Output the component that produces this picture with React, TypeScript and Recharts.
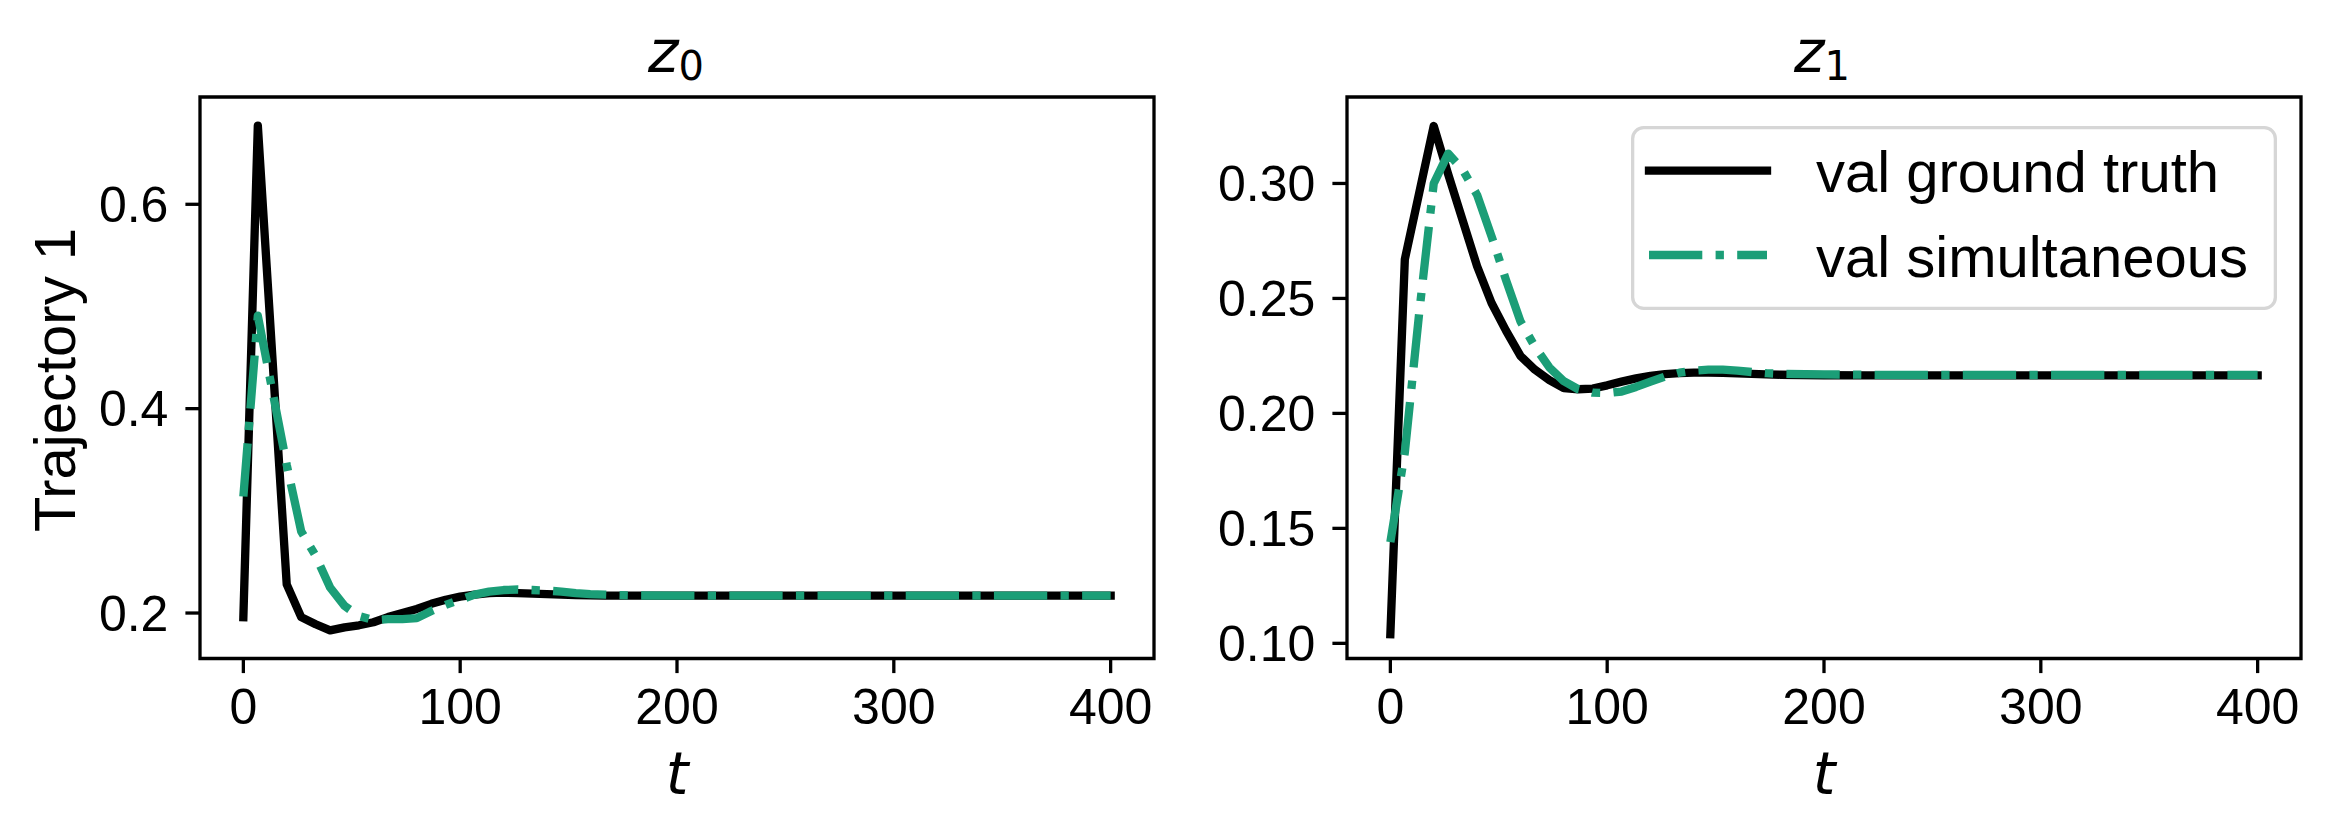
import React from 'react';
import { LineChart, Line, XAxis, YAxis, ReferenceArea, Legend } from 'recharts';

// sample times (t) shared by every series
const tValues = [
  0, 6.67, 13.33, 20, 26.67, 33.33, 40, 46.67, 53.33, 60, 66.67, 73.33, 80, 86.67, 93.33, 100,
  106.67, 113.33, 120, 126.67, 133.33, 140, 146.67, 153.33, 160, 166.67, 173.33, 180,
  200, 220, 240, 260, 280, 300, 320, 340, 360, 380, 400,
];

// z0, trajectory 1
const z0Truth = [
  0.196, 0.677, 0.452, 0.228, 0.196, 0.189, 0.183, 0.186, 0.188, 0.191, 0.196, 0.2, 0.204, 0.209, 0.213, 0.216,
  0.218, 0.2195, 0.22, 0.2195, 0.219, 0.2185, 0.218, 0.2175, 0.2172, 0.217, 0.217, 0.217,
  0.217, 0.217, 0.217, 0.217, 0.217, 0.217, 0.217, 0.217, 0.217, 0.217, 0.217,
];
const z0Sim = [
  0.314, 0.491, 0.418, 0.345, 0.28, 0.256, 0.225, 0.207, 0.197, 0.193, 0.194, 0.194, 0.195, 0.202, 0.208, 0.213,
  0.218, 0.221, 0.2225, 0.223, 0.2225, 0.222, 0.221, 0.2195, 0.2185, 0.218, 0.2175, 0.2172,
  0.2171, 0.217, 0.217, 0.217, 0.217, 0.217, 0.217, 0.217, 0.217, 0.217, 0.217,
];

// z1, trajectory 1
const z1Truth = [
  0.104, 0.267, 0.296, 0.325, 0.304, 0.284, 0.264, 0.248, 0.236, 0.225, 0.219, 0.2145, 0.211, 0.2105, 0.2108, 0.2122,
  0.2138, 0.2152, 0.2163, 0.2171, 0.2175, 0.2177, 0.2177, 0.2176, 0.2174, 0.2172, 0.217, 0.2168,
  0.2166, 0.2165, 0.2165, 0.2165, 0.2165, 0.2165, 0.2165, 0.2165, 0.2165, 0.2165, 0.2165,
];
const z1Sim = [
  0.144, 0.183, 0.244, 0.3, 0.313, 0.306, 0.295, 0.277, 0.258, 0.24, 0.229, 0.22, 0.214, 0.2105, 0.209, 0.2088,
  0.2095, 0.2115, 0.2138, 0.216, 0.2177, 0.2186, 0.219, 0.219, 0.2186, 0.218, 0.2175, 0.2172,
  0.217, 0.2168, 0.2167, 0.2167, 0.2167, 0.2167, 0.2167, 0.2167, 0.2167, 0.2167, 0.2167,
];

const xTicks = [0, 100, 200, 300, 400];
const z0Ticks = [0.2, 0.4, 0.6];
const z1Ticks = [0.1, 0.15, 0.2, 0.25, 0.3];

const xDomain = [-20, 420];
const z0Domain = [0.1555, 0.705];
const z1Domain = [0.0934, 0.3376];

const toRows = (truth: number[], sim: number[]) =>
  tValues.map((t, i) => ({ t, truth: truth[i], sim: sim[i] }));

const z0Data = toRows(z0Truth, z0Sim);
const z1Data = toRows(z1Truth, z1Sim);

const FONT = '"Liberation Sans", Arial, sans-serif';
const MATH = '"DejaVu Sans", sans-serif';
const LW = 8.33;
const SPINE = 3.3;
const GREEN = '#1b9e77';
const DASHDOT = '53.3 13.3 8.3 13.3';

const seriesStyle: Record<string, { color: string; dash?: string; cap: 'butt' | 'square' }> = {
  truth: { color: '#000000', cap: 'square' },
  sim: { color: GREEN, dash: DASHDOT, cap: 'butt' },
};

function LegendBox({ payload }: any) {
  const rows = [44.7, 129];
  return (
    <svg width={646} height={184}>
      <rect x={1.65} y={1.65} width={642.7} height={180.7} rx={11} fill="#fff" fillOpacity={0.8} stroke="#d6d6d6" strokeWidth={SPINE} />
      {(payload || []).map((item: any, i: number) => {
        const s = seriesStyle[item.dataKey];
        return (
          <g key={item.dataKey}>
            <line x1={18} x2={136} y1={rows[i]} y2={rows[i]} stroke={s.color} strokeWidth={LW} strokeDasharray={s.dash} strokeLinecap={s.cap} />
            <text x={185} y={rows[i] + 21.5} fontSize={58} fontFamily={FONT} fill="#000">{item.value}</text>
          </g>
        );
      })}
    </svg>
  );
}

function Panel({ data, yDomain, yTicks, digits, yAxisWidth, rightMargin, showLegend }: any) {
  return (
    <LineChart width={1165} height={834} data={data} margin={{ top: 97, right: rightMargin, bottom: 0, left: 0 }}>
      <XAxis
        dataKey="t"
        type="number"
        domain={xDomain}
        ticks={xTicks}
        allowDataOverflow
        interval={0}
        height={175.5}
        axisLine={false}
        tickSize={14.6}
        tickMargin={15}
        tickLine={{ stroke: '#000', strokeWidth: SPINE }}
        tick={{ fill: '#000', fontSize: 50, fontFamily: FONT }}
      />
      <YAxis
        type="number"
        domain={yDomain}
        ticks={yTicks}
        allowDataOverflow
        interval={0}
        width={yAxisWidth}
        axisLine={false}
        tickSize={14.6}
        tickMargin={17}
        tickFormatter={(v: number) => v.toFixed(digits)}
        tickLine={{ stroke: '#000', strokeWidth: SPINE }}
        tick={{ fill: '#000', fontSize: 50, fontFamily: FONT }}
      />
      <ReferenceArea
        x1={xDomain[0]}
        x2={xDomain[1]}
        y1={yDomain[0]}
        y2={yDomain[1]}
        fill="none"
        stroke="#000"
        strokeWidth={SPINE}
        ifOverflow="visible"
      />
      <Line
        type="linear"
        dataKey="truth"
        name="val ground truth"
        stroke="#000"
        strokeWidth={LW}
        strokeLinecap="square"
        strokeLinejoin="round"
        dot={false}
        activeDot={false}
        isAnimationActive={false}
      />
      <Line
        type="linear"
        dataKey="sim"
        name="val simultaneous"
        stroke={GREEN}
        strokeWidth={LW}
        strokeDasharray={DASHDOT}
        strokeLinecap="butt"
        strokeLinejoin="round"
        dot={false}
        activeDot={false}
        isAnimationActive={false}
      />
      {showLegend && (
        <Legend
          layout="vertical"
          align="center"
          verticalAlign="middle"
          wrapperStyle={{ left: 466, top: 126, width: 646, height: 184 }}
          content={(props: any) => <LegendBox payload={props.payload} />}
        />
      )}
    </LineChart>
  );
}

export default function App() {
  return (
    <div style={{ position: 'absolute', left: 0, top: 0, width: 2330, height: 834, background: '#fff' }}>
      <div style={{ position: 'absolute', left: 0, top: 0 }}>
        <Panel data={z0Data} yDomain={z0Domain} yTicks={z0Ticks} digits={1} yAxisWidth={200} rightMargin={11} />
      </div>
      <div style={{ position: 'absolute', left: 1165, top: 0 }}>
        <Panel data={z1Data} yDomain={z1Domain} yTicks={z1Ticks} digits={2} yAxisWidth={182} rightMargin={29} showLegend />
      </div>

      {/* titles and axis labels */}
      <svg width={2330} height={834} style={{ position: 'absolute', left: 0, top: 0, pointerEvents: 'none' }}>
        <text x={676} y={72} textAnchor="middle" fontFamily={MATH} fontSize={58} fill="#000">
          <tspan fontStyle="italic">z</tspan>
          <tspan fontSize={40} dy={8}>0</tspan>
        </text>
        <text x={1822} y={72} textAnchor="middle" fontFamily={MATH} fontSize={58} fill="#000">
          <tspan fontStyle="italic">z</tspan>
          <tspan fontSize={40} dy={8}>1</tspan>
        </text>
        <text x={677} y={794} textAnchor="middle" fontFamily={MATH} fontStyle="italic" fontSize={58} fill="#000">t</text>
        <text x={1824} y={794} textAnchor="middle" fontFamily={MATH} fontStyle="italic" fontSize={58} fill="#000">t</text>
        <text x={75} y={380} transform="rotate(-90 75 380)" textAnchor="middle" fontFamily={FONT} fontSize={58} fill="#000">
          Trajectory 1
        </text>
      </svg>
    </div>
  );
}
